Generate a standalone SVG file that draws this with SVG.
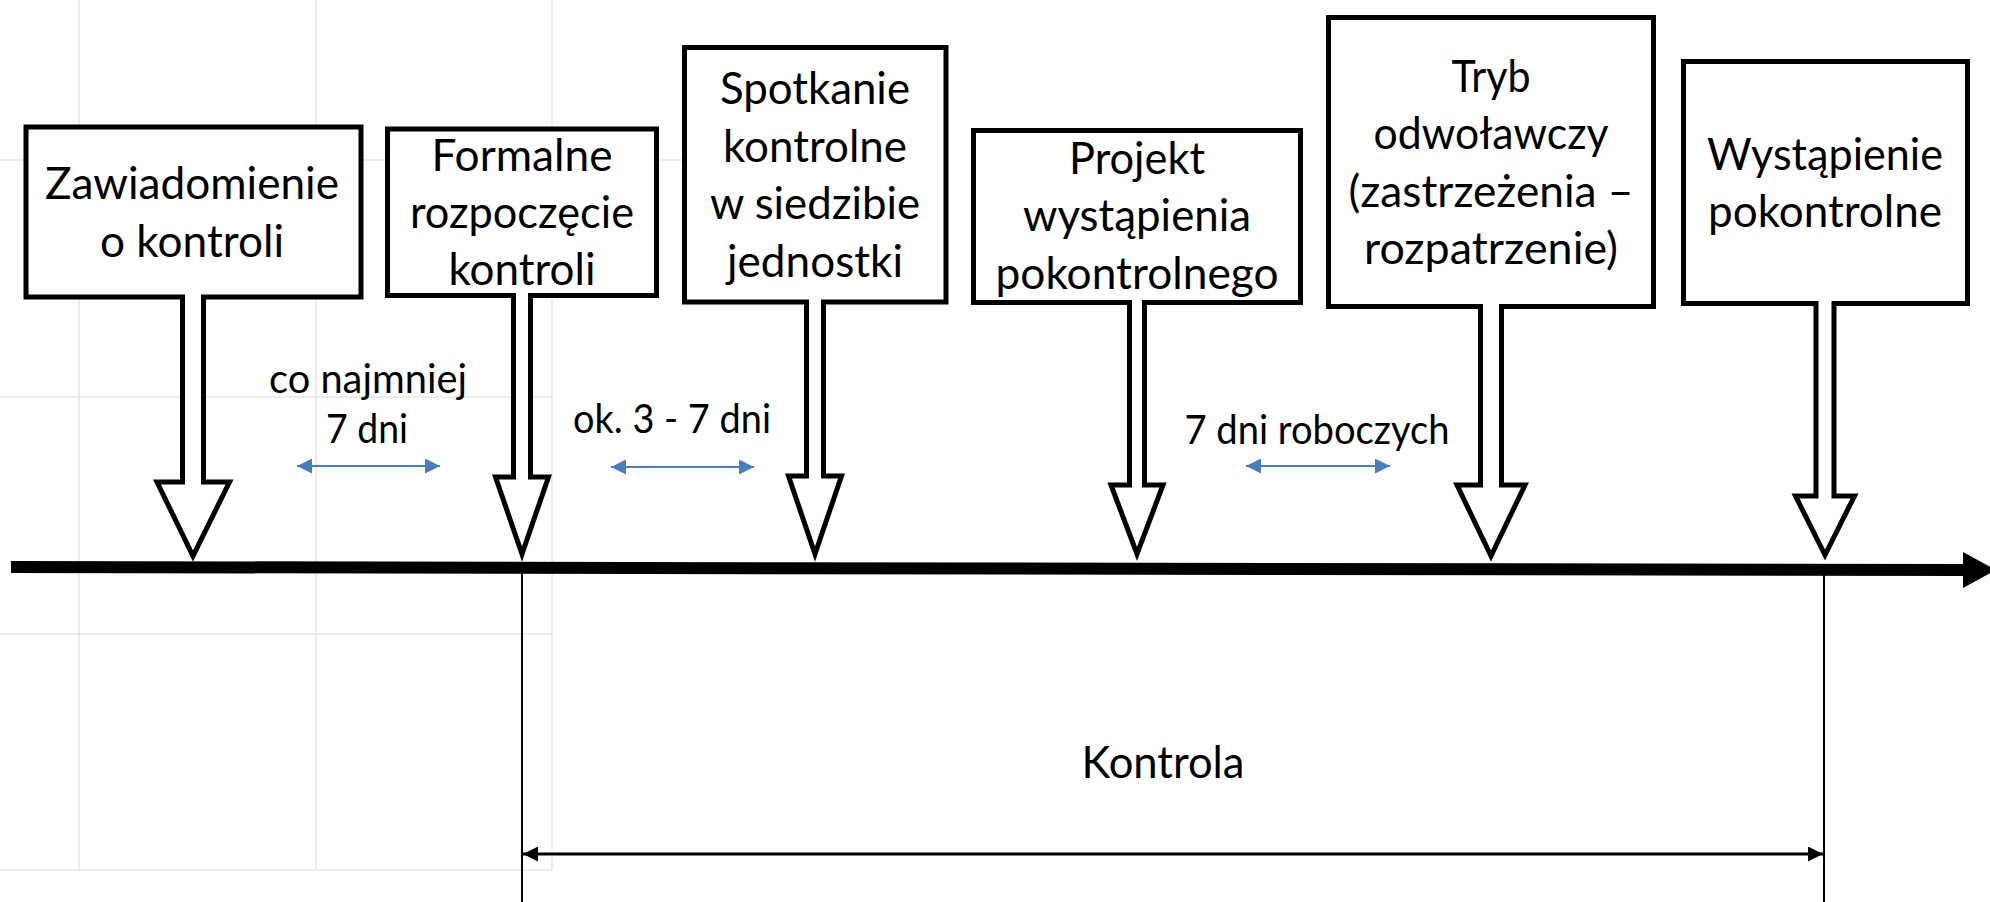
<svg xmlns="http://www.w3.org/2000/svg" width="1990" height="902" viewBox="0 0 1990 902">
<style>
.grid{stroke:#e6e6e6;stroke-width:1.5;fill:none}
.node{fill:#fff;stroke:#000;stroke-width:5;stroke-linejoin:miter;stroke-miterlimit:10}
.t{font-family:Lato,"Open Sans","Liberation Sans",sans-serif;font-size:44.5px;fill:#000;text-anchor:middle}
.lbl{font-family:Lato,"Open Sans","Liberation Sans",sans-serif;font-size:40px;fill:#000;text-anchor:middle}
.blue{stroke:#4a7ebb;stroke-width:2.2;fill:none}
.thin{stroke:#000;stroke-width:2;fill:none}
.span{stroke:#000;stroke-width:3;fill:none}
</style>
<defs>
<marker id="bh" viewBox="0 0 15 15" refX="15" refY="7.5" markerWidth="15" markerHeight="15" markerUnits="userSpaceOnUse" orient="auto-start-reverse">
<path d="M0,0 L15,7.5 L0,15 Z" fill="#4a7ebb"/>
</marker>
<marker id="kh" viewBox="0 0 15 15" refX="15" refY="7.5" markerWidth="15" markerHeight="15" markerUnits="userSpaceOnUse" orient="auto-start-reverse">
<path d="M0,0 L15,7.5 L0,15 Z" fill="#000"/>
</marker>
</defs>
<rect width="1990" height="902" fill="#fff"/>
<g id="grid">
<line class="grid" x1="79" y1="0" x2="79" y2="870"/>
<line class="grid" x1="316" y1="0" x2="316" y2="870"/>
<line class="grid" x1="552" y1="0" x2="552" y2="870"/>
<line class="grid" x1="0" y1="160" x2="682" y2="160"/>
<line class="grid" x1="0" y1="397" x2="552" y2="397"/>
<line class="grid" x1="0" y1="634" x2="552" y2="634"/>
<line class="grid" x1="0" y1="870" x2="552" y2="870"/>
</g>
<g id="node1">
<path class="node" d="M26,127 H361 V297 H203.5 V482 H229.5 L193,556 L157,482 H182.5 V297 H26 Z"/>
<text class="t" x="192" y="199" textLength="294" lengthAdjust="spacingAndGlyphs">Zawiadomienie</text>
<text class="t" x="192" y="257" textLength="184" lengthAdjust="spacingAndGlyphs">o kontroli</text>
</g>
<g id="node2">
<path class="node" d="M387.5,129 H656.5 V295.5 H530.5 V477 H548.5 L522,554 L495.5,477 H513.5 V295.5 H387.5 Z"/>
<text class="t" x="522" y="171" textLength="181" lengthAdjust="spacingAndGlyphs">Formalne</text>
<text class="t" x="522" y="228" textLength="224" lengthAdjust="spacingAndGlyphs">rozpoczęcie</text>
<text class="t" x="522" y="285" textLength="147" lengthAdjust="spacingAndGlyphs">kontroli</text>
</g>
<g id="node3">
<path class="node" d="M684.5,47.5 H946 V302 H823.5 V476 H841.5 L815,554 L788.5,476 H806.5 V302 H684.5 Z"/>
<text class="t" x="815" y="104" textLength="190" lengthAdjust="spacingAndGlyphs">Spotkanie</text>
<text class="t" x="815" y="161.5" textLength="184" lengthAdjust="spacingAndGlyphs">kontrolne</text>
<text class="t" x="815" y="219" textLength="210" lengthAdjust="spacingAndGlyphs">w siedzibie</text>
<text class="t" x="815" y="276.5" textLength="176" lengthAdjust="spacingAndGlyphs">jednostki</text>
</g>
<g id="node4">
<path class="node" d="M973.5,130.5 H1300.5 V302.5 H1144.5 V485 H1163 L1137,554 L1111,485 H1129.5 V302.5 H973.5 Z"/>
<text class="t" x="1137" y="174" textLength="136" lengthAdjust="spacingAndGlyphs">Projekt</text>
<text class="t" x="1137" y="231" textLength="228" lengthAdjust="spacingAndGlyphs">wystąpienia</text>
<text class="t" x="1137" y="289" textLength="283" lengthAdjust="spacingAndGlyphs">pokontrolnego</text>
</g>
<g id="node5">
<path class="node" d="M1328.5,17.5 H1653.5 V306.5 H1501.5 V485 H1525 L1491,556 L1457,485 H1480.5 V306.5 H1328.5 Z"/>
<text class="t" x="1491" y="91.5" textLength="79" lengthAdjust="spacingAndGlyphs">Tryb</text>
<text class="t" x="1491" y="149" textLength="235" lengthAdjust="spacingAndGlyphs">odwoławczy</text>
<text class="t" x="1491" y="206.5" textLength="285" lengthAdjust="spacingAndGlyphs">(zastrzeżenia –</text>
<text class="t" x="1491" y="264" textLength="254" lengthAdjust="spacingAndGlyphs">rozpatrzenie)</text>
</g>
<g id="node6">
<path class="node" d="M1683.5,61.5 H1967.5 V303.5 H1834 V496 H1854.5 L1825,555 L1795.5,496 H1816 V303.5 H1683.5 Z"/>
<text class="t" x="1825" y="170" textLength="236" lengthAdjust="spacingAndGlyphs">Wystąpienie</text>
<text class="t" x="1825" y="227" textLength="234" lengthAdjust="spacingAndGlyphs">pokontrolne</text>
</g>
<g id="labels">
<text class="lbl" x="368" y="393" textLength="198" lengthAdjust="spacingAndGlyphs">co najmniej</text>
<text class="lbl" x="367" y="443" textLength="82" lengthAdjust="spacingAndGlyphs">7 dni</text>
<text class="lbl" x="672" y="433" textLength="198" lengthAdjust="spacingAndGlyphs">ok. 3 - 7 dni</text>
<text class="lbl" x="1317" y="444" textLength="265" lengthAdjust="spacingAndGlyphs">7 dni roboczych</text>
<text class="t" x="1163" y="778" textLength="163" lengthAdjust="spacingAndGlyphs">Kontrola</text>
</g>
<g id="connectors">
<line x1="11" y1="567" x2="1966" y2="570" stroke="#000" stroke-width="12"/>
<path d="M1963,552 L1996,570 L1963,588 Z" fill="#000"/>
<line class="blue" x1="297" y1="466" x2="440" y2="466" marker-start="url(#bh)" marker-end="url(#bh)"/>
<line class="blue" x1="611" y1="467" x2="754" y2="467" marker-start="url(#bh)" marker-end="url(#bh)"/>
<line class="blue" x1="1246" y1="466" x2="1390" y2="466" marker-start="url(#bh)" marker-end="url(#bh)"/>
<line class="thin" x1="522" y1="567" x2="522" y2="902"/>
<line class="thin" x1="1824" y1="570" x2="1824" y2="902"/>
<line class="span" x1="523" y1="854" x2="1823" y2="854" marker-start="url(#kh)" marker-end="url(#kh)"/>
</g>
</svg>
